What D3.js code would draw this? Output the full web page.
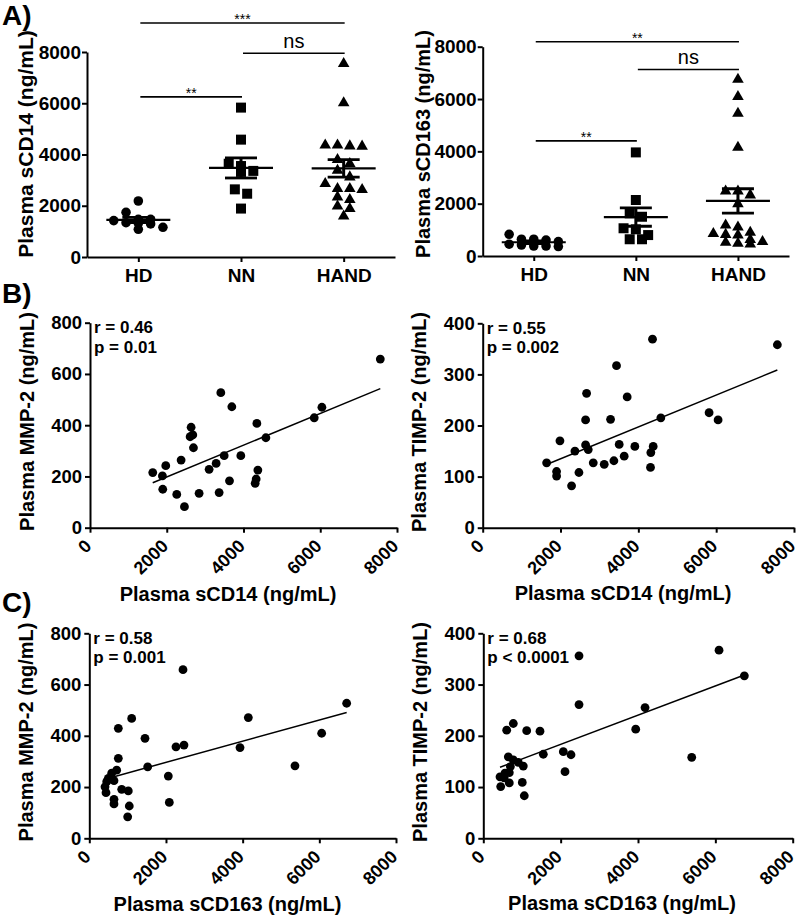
<!DOCTYPE html>
<html><head><meta charset="utf-8">
<script src="https://cdn.jsdelivr.net/npm/d3@7"></script>
<style>
body{margin:0;background:#fff}
svg{display:block}
text{font-family:"Liberation Sans",Arial,Helvetica,sans-serif;fill:#000}
</style>
</head><body>
<svg id="chart" width="800" height="916"></svg>
<script>
// ---------------- DATA ----------------
const groups = ["HD", "NN", "HAND"];

// Panel A (left): plasma sCD14 (ng/mL)
const cd14HD   = [2185, 1744, 1340, 1290, 1470, 1080, 1160, 1315, 1470, 1420];
const cd14NN   = [5830, 4580, 3640, 3550, 3360, 3320, 2640, 2470, 1890];
const cd14HAND = [7545, 6010, 4360, 4320, 4330, 4360, 3640, 3800, 3380, 3120,
                  2670, 2860, 2630, 2670, 2340, 2240, 1980, 1890, 1590];

// Panel A (right): plasma sCD163 (ng/mL)
const cd163HD   = [830, 640, 610, 640, 450, 380, 360, 380, 420, 550];
const cd163NN   = [3960, 2140, 1630, 1500, 1060, 1020, 800, 640, 640];
const cd163HAND = [6750, 6090, 5450, 4150, 2480, 2480, 2330, 1990, 1180, 1100,
                   900, 850, 820, 800, 620, 550, 480, 450, 520];

const ticksA = [0, 2000, 4000, 6000, 8000];

// significance brackets (level in data units)
const sigCD14Pairs  = [["HD", "NN"], ["NN", "HAND"], ["HD", "HAND"]];
const sigCD14Labels = ["**", "ns", "***"];
const sigCD14Levels = [6250, 7950, 9130];
const sigCD163Pairs  = [["HD", "NN"], ["NN", "HAND"], ["HD", "HAND"]];
const sigCD163Labels = ["**", "ns", "**"];
const sigCD163Levels = [4400, 7130, 8190];

// Panel B (left): sCD14 vs MMP-2
const bL_x = [1635,1887,1896,1974,2261,2374,2461,2609,2635,2678,2696,2843,3104,3287,3365,3409,3496,3635,3696,3930,4304,4330,4348,4374,4583,5843,6043,7565];
const bL_y = [215,202,150,242,130,264,82,355,392,362,312,134,228,251,137,527,281,183,472,281,173,190,407,225,351,429,470,658];
// Panel B (right): sCD14 vs TIMP-2
const bR_x = [1643,1899,1899,1985,2284,2370,2473,2644,2644,2670,2712,2841,3123,3286,3371,3439,3508,3636,3713,3910,4312,4321,4364,4381,4578,5818,6049,7572];
const bR_y = [127,110,101,170,82,150,108,162,211,263,153,127,124,212,131,317,163,140,256,159,118,147,369,159,215,225,211,358];
// Panel C (left): sCD163 vs MMP-2
const cL_x = [2444,1105,3931,4148,5365,6061,6713,757,1453,2261,2470,757,1523,714,584,496,454,644,410,436,845,1017,2061,644,644,1043,2087,1001];
const cL_y = [658,468,354,471,283,410,527,429,390,357,364,312,279,266,254,234,221,225,201,178,191,185,243,152,134,126,140,84];
// Panel C (right): sCD163 vs TIMP-2
const cR_x = [2475,2475,6095,6750,4182,3941,5389,776,605,1122,1466,647,776,905,1034,1552,2069,2268,2113,432,561,672,450,672,1008,1060,540,700];
const cR_y = [356,261,367,317,255,213,158,224,211,210,209,159,153,148,141,164,169,163,130,120,127,128,101,108,109,83,118,140];

const stats = [["r = 0.46", "p = 0.01"], ["r = 0.55", "p = 0.002"],
               ["r = 0.58", "p = 0.001"], ["r = 0.68", "p < 0.0001"]];
const ticksX = [0, 2000, 4000, 6000, 8000];
const ticksMMP = [0, 200, 400, 600, 800];
const ticksTIMP = [0, 100, 200, 300, 400];

// ---------------- DRAWING ----------------
const svg = d3.select("#chart");
const FONT = '"Liberation Sans",Arial,Helvetica,sans-serif';

function styleAxis(g, fontSize) {
  g.select(".domain").attr("stroke", "#000").attr("stroke-width", 2);
  g.selectAll(".tick line").attr("stroke", "#000").attr("stroke-width", 2);
  g.selectAll(".tick text").attr("font-family", FONT).attr("font-size", fontSize)
    .attr("font-weight", "bold").attr("fill", "#000");
}

function panelLabel(txt, x, y) {
  svg.append("text").attr("x", x).attr("y", y).attr("font-size", 28)
    .attr("font-weight", "bold").text(txt);
}

function yTitle(txt, bx, cy, size) {
  svg.append("text").attr("transform", `translate(${bx},${cy}) rotate(-90)`)
    .attr("text-anchor", "middle").attr("font-size", size).attr("font-weight", "bold").text(txt);
}

function xTitle(txt, cx, by) {
  svg.append("text").attr("x", cx).attr("y", by).attr("text-anchor", "middle")
    .attr("font-size", 20).attr("font-weight", "bold").text(txt);
}

// Row-based symmetric spread, like a column scatter plot
function spread(values, y, rowH, step) {
  const idx = values.map((v, i) => i).sort((a, b) => values[b] - values[a]);
  const off = new Array(values.length).fill(0);
  let row = [];
  let start = null;
  const flush = () => {
    const n = row.length;
    row.forEach((i, k) => { off[i] = (k - (n - 1) / 2) * step; });
    row = [];
  };
  idx.forEach(i => {
    const py = y(values[i]);
    if (start === null || py - start > rowH) { flush(); start = py; }
    row.push(i);
  });
  flush();
  return off;
}

function dotPanel(cfg) {
  const y = d3.scaleLinear().domain([0, 8000]).range([cfg.bottom, cfg.top]);
  const x = d3.scalePoint().domain(groups).range([cfg.left, cfg.right]).padding(0.5);

  const gy = svg.append("g").attr("transform", `translate(${cfg.left},0)`)
    .call(d3.axisLeft(y).tickValues(ticksA).tickSize(5).tickSizeOuter(0).tickPadding(1).tickFormat(d3.format("d")));
  styleAxis(gy, 19);
  const gx = svg.append("g").attr("transform", `translate(0,${cfg.bottom})`)
    .call(d3.axisBottom(x).tickSize(5).tickSizeOuter(0).tickPadding(6.5));
  styleAxis(gx, 19);

  const shapes = [d3.symbolCircle, d3.symbolSquare, d3.symbolTriangle];
  const sizes = [72, 100, 58];
  cfg.data.forEach((vals, gi) => {
    const cx = x(groups[gi]);
    const off = spread(vals, y, 8, 12.3);
    const sym = d3.symbol().type(shapes[gi]).size(sizes[gi]);
    svg.append("g").selectAll("path").data(vals).join("path")
      .attr("d", sym)
      .attr("transform", (d, i) => `translate(${cx + off[i]},${y(d)})`)
      .attr("fill", "#000");
    const m = d3.mean(vals);
    const sem = d3.deviation(vals) / Math.sqrt(vals.length);
    const g = svg.append("g").attr("stroke", "#000");
    g.append("line").attr("x1", cx - 32).attr("x2", cx + 32).attr("y1", y(m)).attr("y2", y(m)).attr("stroke-width", 2.2);
    g.append("line").attr("x1", cx).attr("x2", cx).attr("y1", y(m + sem)).attr("y2", y(m - sem)).attr("stroke-width", 3);
    [m + sem, m - sem].forEach(v => {
      g.append("line").attr("x1", cx - 16).attr("x2", cx + 16).attr("y1", y(v)).attr("y2", y(v)).attr("stroke-width", 2.8);
    });
  });

  cfg.pairs.forEach((p, i) => {
    const x1 = x(p[0]) + 2, x2 = x(p[1]) + 1, ly = y(cfg.levels[i]);
    svg.append("line").attr("x1", x1).attr("x2", x2).attr("y1", ly).attr("y2", ly)
      .attr("stroke", "#000").attr("stroke-width", 1.6);
    const isNs = cfg.labels[i] === "ns";
    svg.append("text").attr("x", (x1 + x2) / 2).attr("y", isNs ? ly - 5.5 : ly + 1)
      .attr("text-anchor", "middle").attr("font-size", isNs ? 20 : 14).text(cfg.labels[i]);
  });
}

function scatterPanel(cfg) {
  const x = d3.scaleLinear().domain([0, 8000]).range([cfg.left, cfg.right]);
  const y = d3.scaleLinear().domain([0, cfg.yMax]).range([cfg.bottom, cfg.top]);

  const gy = svg.append("g").attr("transform", `translate(${cfg.left},0)`)
    .call(d3.axisLeft(y).tickValues(cfg.yTicks).tickSize(5).tickSizeOuter(0).tickPadding(3));
  styleAxis(gy, 18.5);
  const gx = svg.append("g").attr("transform", `translate(0,${cfg.bottom})`)
    .call(d3.axisBottom(x).tickValues(ticksX).tickSize(5).tickSizeOuter(0).tickFormat(d3.format("d")));
  styleAxis(gx, 18);
  gx.selectAll(".tick text").attr("x", 0).attr("y", 0).attr("dy", 0)
    .attr("transform", "translate(2,19.5) rotate(-45)").attr("text-anchor", "end");

  const pts = cfg.xs.map((v, i) => [v, cfg.ys[i]]);
  svg.append("g").selectAll("circle").data(pts).join("circle")
    .attr("cx", d => x(d[0])).attr("cy", d => y(d[1])).attr("r", 4.4).attr("fill", "#000");

  // least-squares regression line
  const mx = d3.mean(cfg.xs), my = d3.mean(cfg.ys);
  const sxy = d3.sum(pts, d => (d[0] - mx) * (d[1] - my));
  const sxx = d3.sum(pts, d => (d[0] - mx) ** 2);
  const b = sxy / sxx, a = my - b * mx;
  const [x0, x1] = d3.extent(cfg.xs);
  svg.append("line").attr("x1", x(x0)).attr("x2", x(x1))
    .attr("y1", y(a + b * x0)).attr("y2", y(a + b * x1))
    .attr("stroke", "#000").attr("stroke-width", 1.5);

  svg.append("text").attr("x", cfg.left + 4).attr("y", cfg.top + 10.5)
    .attr("font-size", 17).attr("font-weight", "bold").text(cfg.stat[0]);
  svg.append("text").attr("x", cfg.left + 4).attr("y", cfg.top + 30)
    .attr("font-size", 17).attr("font-weight", "bold").text(cfg.stat[1]);
}

// ---- Panel A ----
panelLabel("A)", 2, 25);
dotPanel({left: 87, right: 395, top: 52, bottom: 257,
  data: [cd14HD, cd14NN, cd14HAND],
  pairs: sigCD14Pairs, labels: sigCD14Labels, levels: sigCD14Levels});
yTitle("Plasma sCD14 (ng/mL)", 33, 144, 21);

dotPanel({left: 482.7, right: 789, top: 46.7, bottom: 256,
  data: [cd163HD, cd163NN, cd163HAND],
  pairs: sigCD163Pairs, labels: sigCD163Labels, levels: sigCD163Levels});
yTitle("Plasma sCD163 (ng/mL)", 430, 144, 20);

// ---- Panel B ----
panelLabel("B)", 2, 303);
scatterPanel({left: 90, right: 397, top: 322.7, bottom: 527.7, yMax: 800, yTicks: ticksMMP,
  xs: bL_x, ys: bL_y, stat: stats[0]});
yTitle("Plasma MMP-2 (ng/mL)", 34, 421.5, 20);
xTitle("Plasma sCD14 (ng/mL)", 228, 601);

scatterPanel({left: 482.7, right: 794, top: 323.3, bottom: 527.7, yMax: 400, yTicks: ticksTIMP,
  xs: bR_x, ys: bR_y, stat: stats[1]});
yTitle("Plasma TIMP-2 (ng/mL)", 426, 422, 20);
xTitle("Plasma sCD14 (ng/mL)", 623, 600);

// ---- Panel C ----
panelLabel("C)", 2, 612);
scatterPanel({left: 89.3, right: 396, top: 633.3, bottom: 838.3, yMax: 800, yTicks: ticksMMP,
  xs: cL_x, ys: cL_y, stat: stats[2]});
yTitle("Plasma MMP-2 (ng/mL)", 33, 732, 20);
xTitle("Plasma sCD163 (ng/mL)", 227.5, 911);

scatterPanel({left: 483.3, right: 792.7, top: 633.3, bottom: 838.3, yMax: 400, yTicks: ticksTIMP,
  xs: cR_x, ys: cR_y, stat: stats[3]});
yTitle("Plasma TIMP-2 (ng/mL)", 427, 732, 20);
xTitle("Plasma sCD163 (ng/mL)", 622, 910);
</script>
</body></html>
